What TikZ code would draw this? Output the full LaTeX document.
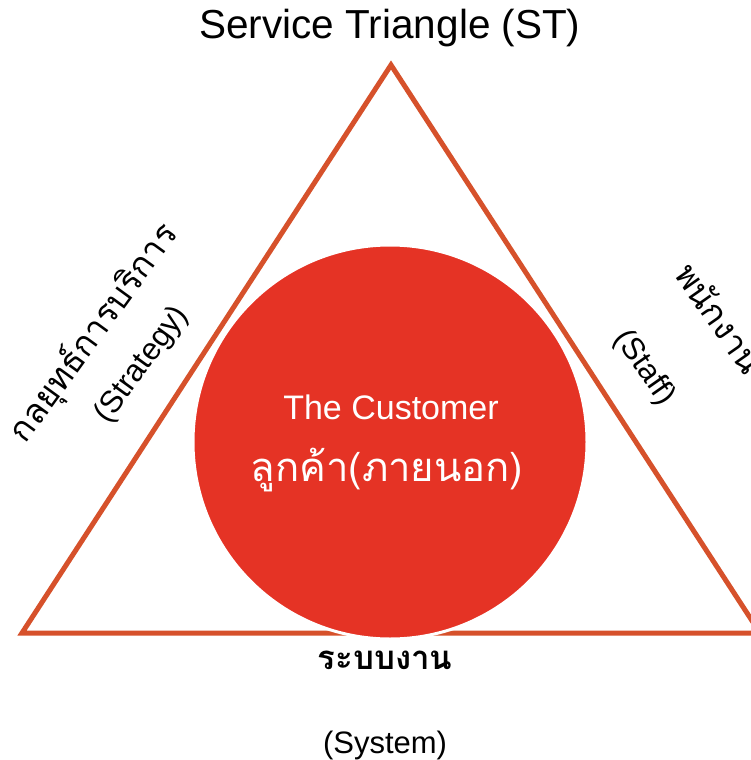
\documentclass[tikz,border=0pt]{standalone}
\usepackage{fontspec}
\setmainfont{Liberation Sans}
\newfontfamily\thaifont[Script=Thai]{Loma}
\definecolor{edgeorange}{HTML}{D6512B}
\definecolor{custred}{HTML}{E53325}
\begin{document}
\begin{tikzpicture}[x=1pt,y=-1pt,
  lbl/.style={inner sep=0pt, text=black},
  thailbl/.style={inner sep=0pt, text=black, font=\thaifont\fontsize{34}{38}\selectfont},
  enlbl/.style={inner sep=0pt, text=black, font=\fontsize{31}{36}\selectfont}]
  \useasboundingbox (0,0) rectangle (750,760);
  \fill[white] (0,0) rectangle (750,760);

  % the service triangle
  \coordinate (apex) at (391,65);
  \coordinate (bl) at (22,633);
  \coordinate (br) at (760,633);
  \draw[edgeorange, line width=5pt, line join=miter] (apex) -- (bl) -- (br) -- cycle;

  % the customer at the centre
  \node[circle, fill=custred, draw=white, line width=3pt, minimum size=394pt, inner sep=0pt] (cust) at (390,442) {};
  \node[inner sep=0pt, text=white, font=\fontsize{34}{38}\selectfont] (custen) at (391,407) {The Customer};
  \node[inner sep=0pt, text=white, font=\thaifont\fontsize{40}{44}\selectfont] (custth) at (387,470) {ลูกค้า(ภายนอก)};

  % title
  \node[lbl, font=\fontsize{40.5}{46}\selectfont] (title) at (390,28) {Service Triangle (ST)};

  % strategy side
  \node[thailbl, rotate=54] (strat) at (94,333) {กลยุทธ์การบริการ};
  \node[enlbl, rotate=54] (straten) at (142,365) {(Strategy)};

  % staff side
  \node[thailbl, rotate=-55] (staff) at (720,318) {พนักงาน};
  \node[enlbl, rotate=-55] (staffen) at (644,368) {(Staff)};

  % system side
  \node[lbl, font=\thaifont\bfseries\fontsize{33}{38}\selectfont] (sys) at (385,660) {ระบบงาน};
  \node[enlbl] (sysen) at (385,745) {(System)};
\end{tikzpicture}
\end{document}
